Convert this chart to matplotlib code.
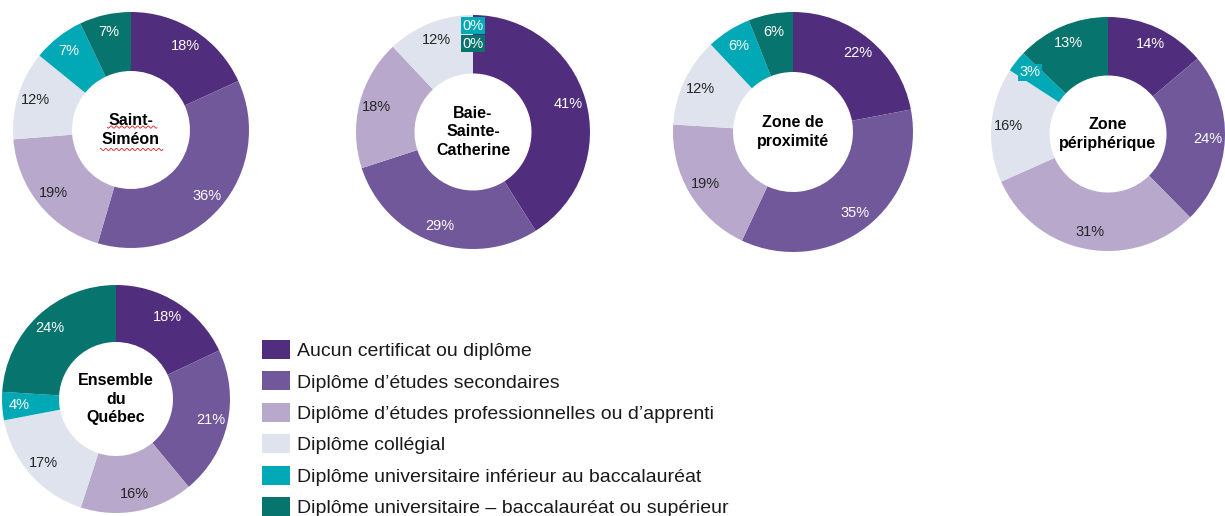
import numpy as np
import matplotlib
matplotlib.use('Agg')
import matplotlib.pyplot as plt
from matplotlib.patches import Patch

plt.rcParams['font.family'] = ['Liberation Sans', 'DejaVu Sans']

categories = ['Aucun certificat ou diplôme',
              'Diplôme d\u2019études secondaires',
              'Diplôme d\u2019études professionnelles ou d\u2019apprenti',
              'Diplôme collégial',
              'Diplôme universitaire inférieur au baccalauréat',
              'Diplôme universitaire \u2013 baccalauréat ou supérieur']
colors = ['#512d7d', '#71589a', '#b8a9cc', '#dee3ed', '#00a9b5', '#08746e']
text_colors = ['white', 'white', '#262626', '#262626', 'white', 'white']

regions = ['Saint-\nSiméon', 'Baie-\nSainte-\nCatherine', 'Zone de\nproximité',
           'Zone\npériphérique', 'Ensemble\ndu\nQuébec']
saint_simeon = [18, 36, 19, 12, 7, 7]
baie_ste_catherine = [41, 29, 18, 12, 0, 0]
zone_proximite = [22, 35, 19, 12, 6, 6]
zone_peripherique = [14, 24, 31, 16, 3, 13]
ensemble_quebec = [18, 21, 16, 17, 4, 24]
all_values = [saint_simeon, baie_ste_catherine, zone_proximite,
              zone_peripherique, ensemble_quebec]

# donut centres and radii in pixels
W, H = 1225, 516
centres = [(131, 130, 118), (473, 132, 117), (793, 132, 120),
           (1108, 134, 117), (116, 399, 114)]

fig = plt.figure(figsize=(W / 100, H / 100), dpi=100)

for name, vals, (cx, cy, r) in zip(regions, all_values, centres):
    ax = fig.add_axes([(cx - r) / W, 1 - (cy + r) / H, 2 * r / W, 2 * r / H])
    wedges, _ = ax.pie(vals, colors=colors, startangle=90, counterclock=False,
                       radius=1, wedgeprops=dict(width=0.5, edgecolor='none'))
    ax.set_xlim(-1, 1)
    ax.set_ylim(-1, 1)
    ax.set_aspect('equal')
    ax.axis('off')
    total = sum(vals)
    cum = 0
    zero_count = 0
    for i, v in enumerate(vals):
        mid = (cum + v / 2) / total
        ang = np.deg2rad(90 - 360 * mid)
        cum += v
        if v == 0:
            # zero slices: stacked boxed labels at the top
            ax.text(0, 0.91 - 0.155 * zero_count, '0%', ha='center', va='center',
                    fontsize=10.5, color='white',
                    bbox=dict(boxstyle='square,pad=0.12', fc=colors[i], ec='none'))
            zero_count += 1
            continue
        x, y = 0.85 * np.cos(ang), 0.85 * np.sin(ang)
        kw = {}
        if v <= 3:
            kw['bbox'] = dict(boxstyle='square,pad=0.12', fc=colors[i], ec='none')
        ax.text(x, y, f'{v}%', ha='center', va='center', fontsize=10.5,
                color=text_colors[i], **kw)
    ax.text(0, 0, name, ha='center', va='center', fontsize=11.5,
            fontweight='bold', color='black', linespacing=1.3)
    if name.startswith('Saint'):
        # spell-check squiggle under the name
        for yy, x0, x1 in [(0.025, -0.2, 0.22), (-0.165, -0.26, 0.27)]:
            xs = np.linspace(x0, x1, 60)
            ax.plot(xs, yy + 0.01 * np.sin(xs * 140), color='#e02020', lw=0.6)

handles = [Patch(facecolor=c, edgecolor='none') for c in colors]
fig.legend(handles, categories, loc='upper left',
           bbox_to_anchor=(262 / W, 1 - 340 / H), frameon=False,
           fontsize=14, handlelength=1.44, handleheight=1.13,
           handletextpad=0.36, labelspacing=0.58, borderpad=0, borderaxespad=0,
           labelcolor='#1a1a1a')

fig.savefig('out.png', dpi=100)
